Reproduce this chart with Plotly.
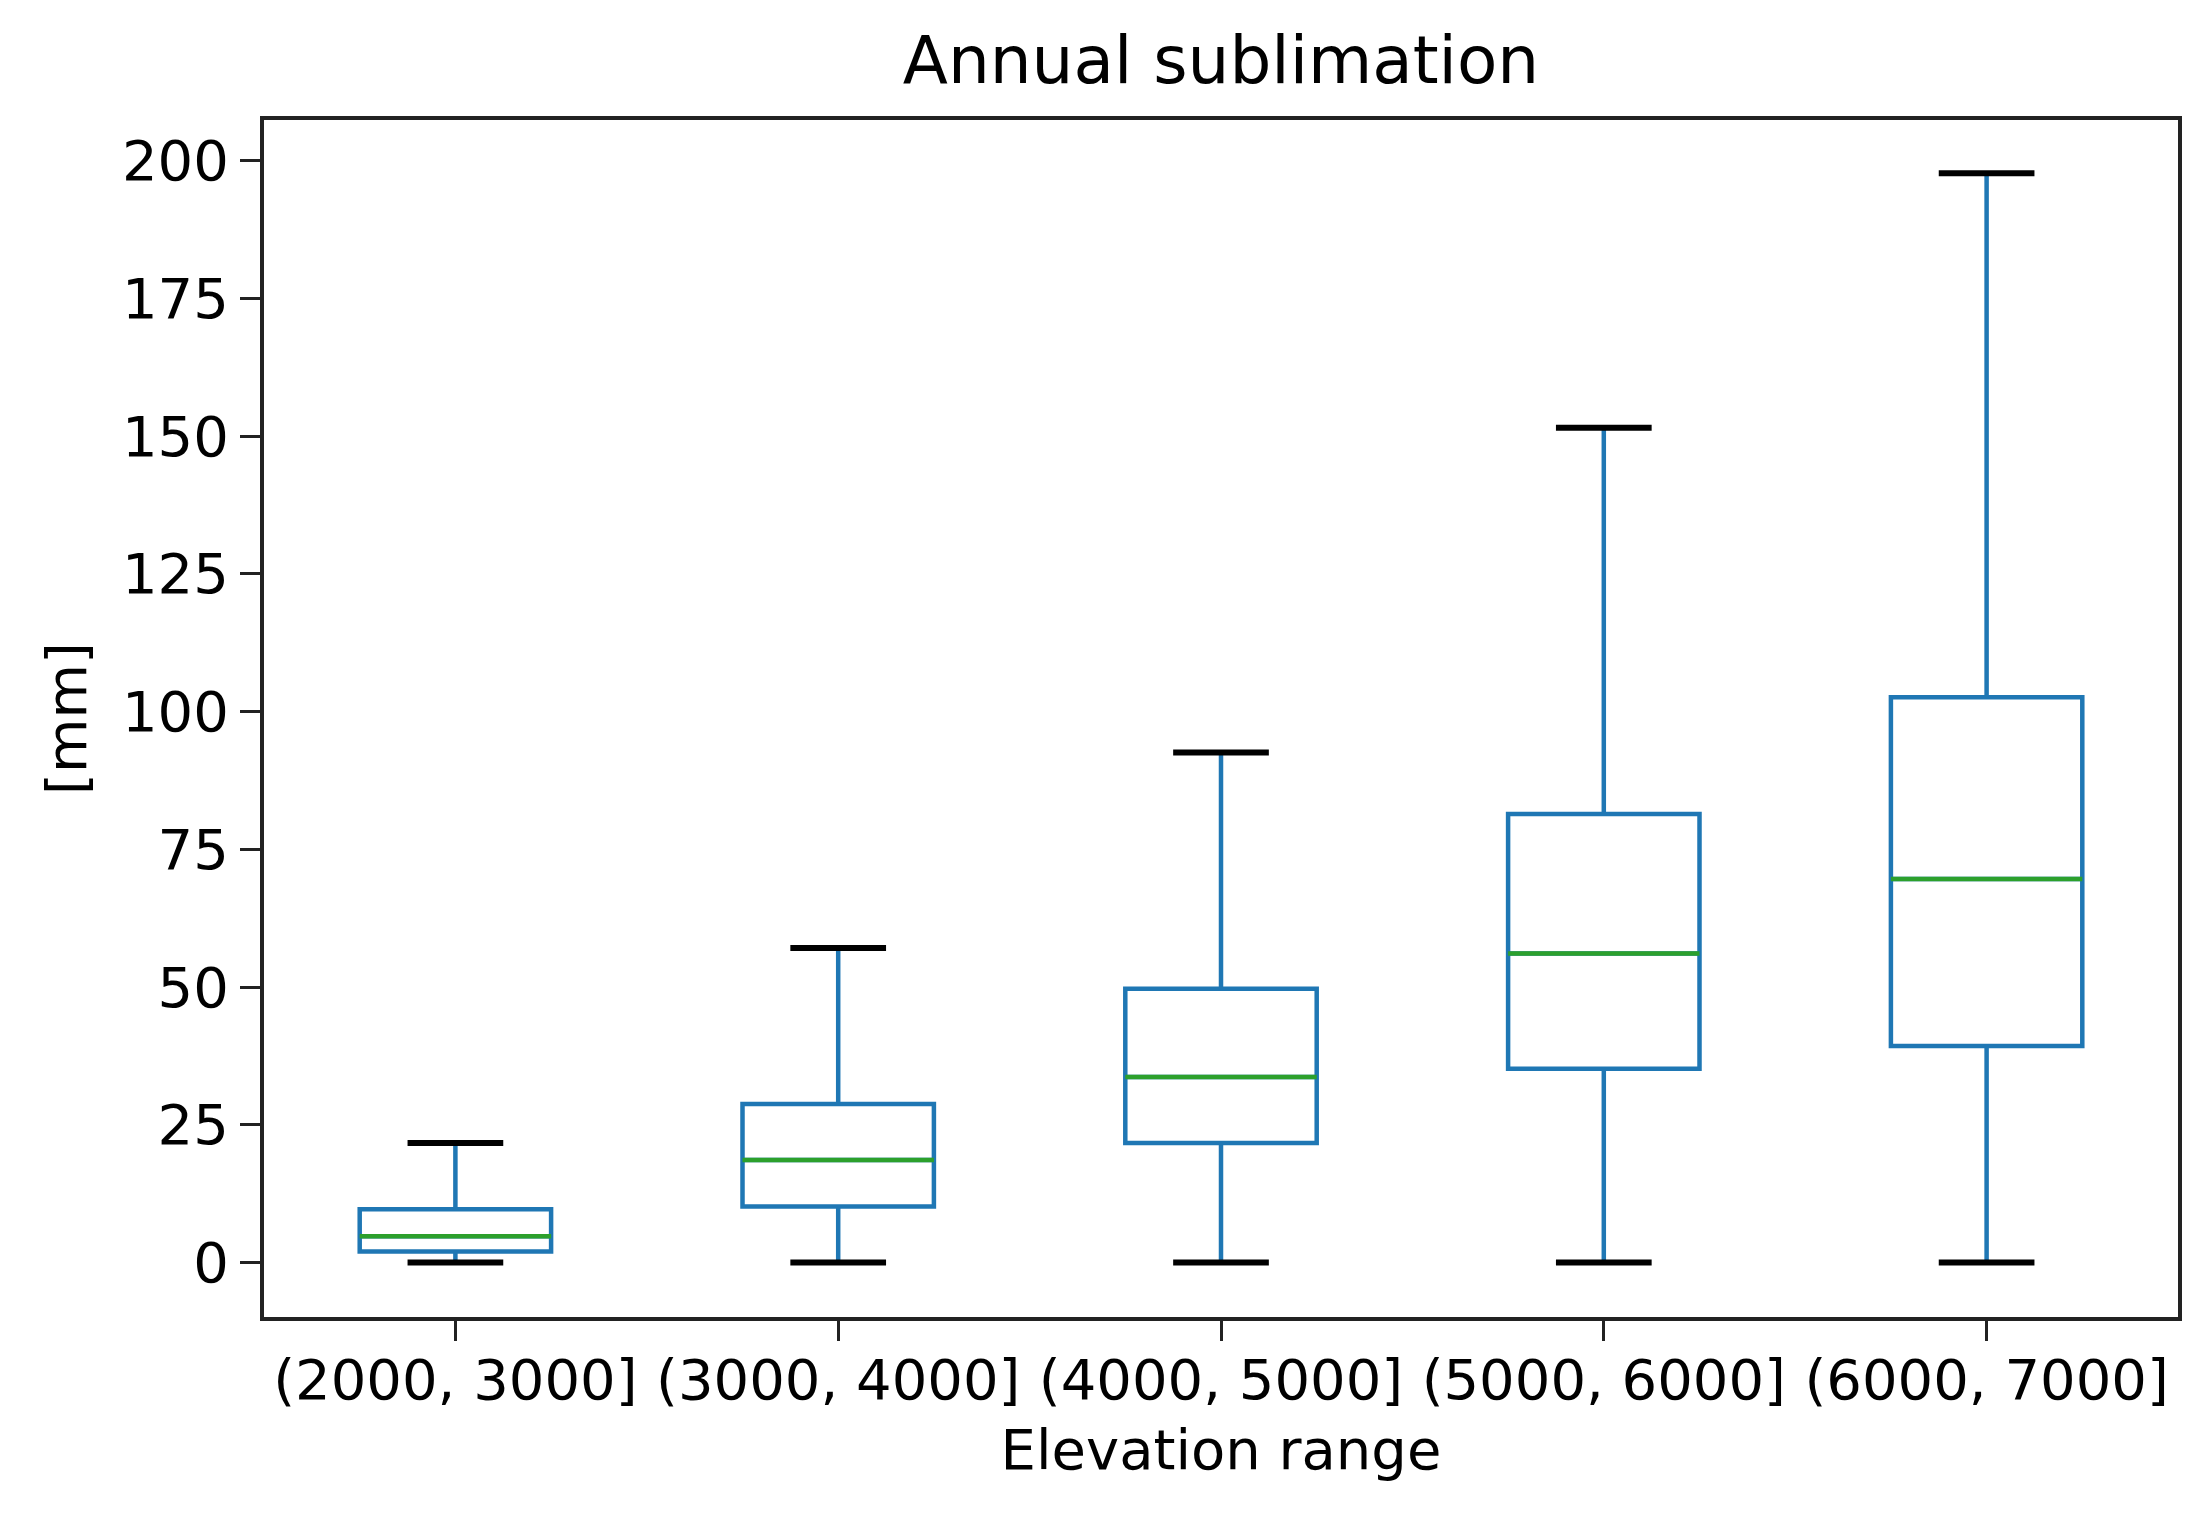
import plotly.graph_objects as go

# elevation bins and box statistics (mm)
categories = ["(2000, 3000]", "(3000, 4000]", "(4000, 5000]", "(5000, 6000]", "(6000, 7000]"]
positions = [1, 2, 3, 4, 5]
lower_whisker = [0.0, 0.0, 0.0, 0.0, 0.0]
q1 = [2.0, 10.2, 21.7, 35.2, 39.3]
median = [4.8, 18.6, 33.7, 56.1, 69.6]
q3 = [9.7, 28.8, 49.7, 81.4, 102.6]
upper_whisker = [21.7, 57.1, 92.6, 151.5, 197.7]

BLUE = "#1f77b4"
GREEN = "#2ca02c"
BOX_W = 0.5
CAP_W = 0.25

fig = go.Figure()

# boxes + whiskers
fig.add_trace(go.Box(
    x=positions, q1=q1, median=median, q3=q3,
    lowerfence=lower_whisker, upperfence=upper_whisker,
    width=BOX_W, whiskerwidth=0,
    line=dict(color=BLUE, width=4.5),
    fillcolor="rgba(255,255,255,0)",
    boxpoints=False, hoverinfo="skip", showlegend=False,
))

# medians in green
mx, my = [], []
for p, m in zip(positions, median):
    mx += [p - BOX_W / 2, p + BOX_W / 2, None]
    my += [m, m, None]
fig.add_trace(go.Scatter(x=mx, y=my, mode="lines", line=dict(color=GREEN, width=4.5),
                         hoverinfo="skip", showlegend=False))

# black caps
cx, cy = [], []
for p, lo, hi in zip(positions, lower_whisker, upper_whisker):
    cx += [p - CAP_W / 2, p + CAP_W / 2, None, p - CAP_W / 2, p + CAP_W / 2, None]
    cy += [lo, lo, None, hi, hi, None]
fig.add_trace(go.Scatter(x=cx, y=cy, mode="lines", line=dict(color="black", width=6),
                         hoverinfo="skip", showlegend=False))

fig.update_layout(
    width=2208, height=1517,
    margin=dict(l=256, r=38, t=112, b=208),
    paper_bgcolor="white", plot_bgcolor="white",
    font=dict(family="DejaVu Sans", size=56, color="black"),
    title=dict(text="Annual sublimation", x=0.5, xref="paper", xanchor="center",
               y=0.966, yanchor="middle", font=dict(size=66)),
)
fig.update_xaxes(
    range=[0.5, 5.5], tickvals=positions, ticktext=categories,
    showgrid=False, zeroline=False, showline=True, mirror=True,
    linecolor="#222222", linewidth=4, ticks="outside", ticklen=20, tickwidth=3,
    tickcolor="#222222", ticklabelstandoff=-9,
    title=dict(text="Elevation range", standoff=20, font=dict(size=56)),
)
fig.update_yaxes(
    range=[-9.875, 207.375], tickvals=[0, 25, 50, 75, 100, 125, 150, 175, 200],
    showgrid=False, zeroline=False, showline=True, mirror=True,
    linecolor="#222222", linewidth=4, ticks="outside", ticklen=20, tickwidth=3,
    tickcolor="#222222",
    title=dict(text="[mm]", standoff=18, font=dict(size=56)),
)

fig.write_html("out.html")
